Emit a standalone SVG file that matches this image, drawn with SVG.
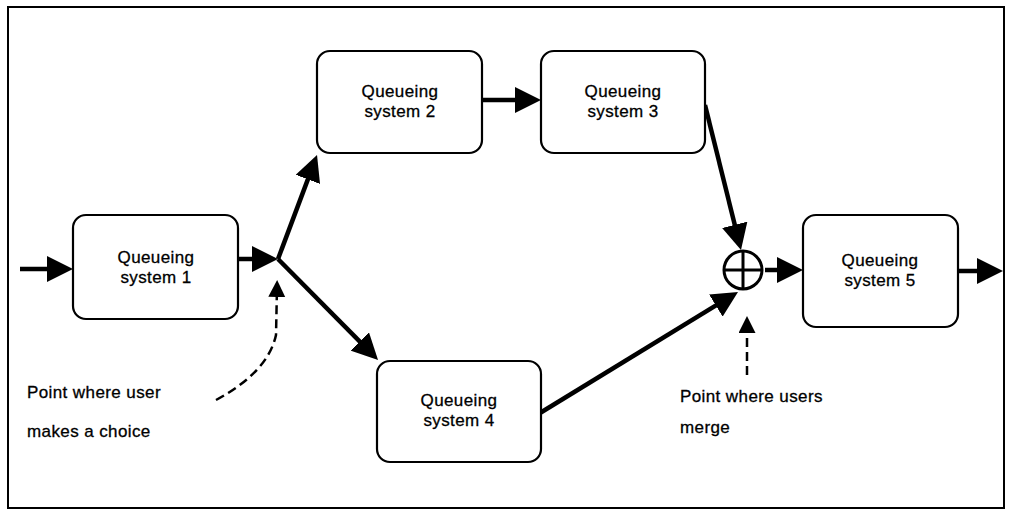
<svg xmlns="http://www.w3.org/2000/svg" width="1012" height="511" viewBox="0 0 1012 511">
<style>
.box{fill:#fff;stroke:#000;stroke-width:2.2}
.t{font-family:"Liberation Sans",Arial,sans-serif;font-size:17px;letter-spacing:0.4px;fill:#000;stroke:#000;stroke-width:0.3}
.c{text-anchor:middle}
.arr{stroke:#000;stroke-width:4.5;fill:none;marker-end:url(#ah)}
.dash{stroke:#000;stroke-width:2.5;fill:none;stroke-dasharray:9 5;marker-end:url(#dh)}
</style>
<defs>
<marker id="ah" markerUnits="userSpaceOnUse" markerWidth="27" markerHeight="26" refX="16" refY="13" orient="auto">
<path d="M0,0 L26,13 L0,26 z" fill="#000"/>
</marker>
<marker id="dh" markerUnits="userSpaceOnUse" markerWidth="18" markerHeight="18" refX="10" refY="8.5" orient="auto">
<path d="M0,0 L17,8.5 L0,17 z" fill="#000"/>
</marker>
</defs>
<rect x="8" y="7" width="996" height="501" fill="#fff" stroke="#000" stroke-width="2"/>
<g id="connectors">
<line class="arr" x1="20" y1="269" x2="63" y2="269"/>
<line class="arr" x1="238" y1="259" x2="268" y2="259"/>
<line class="arr" x1="278" y1="259" x2="313.5" y2="164.4"/>
<line class="arr" x1="278" y1="259" x2="371" y2="352.9"/>
<line class="arr" x1="482" y1="100" x2="531" y2="100"/>
<line class="arr" x1="705" y1="105" x2="738.6" y2="240.3"/>
<line class="arr" x1="540" y1="413" x2="729.5" y2="297.2"/>
<line class="arr" x1="765" y1="270" x2="793" y2="270"/>
<line class="arr" x1="958" y1="271" x2="993" y2="271"/>
<path class="dash" d="M216,400 Q268,372 276,335 L277,287"/>
<path class="dash" d="M747,375 L747,323"/>
</g>
<g id="merge">
<circle cx="743" cy="270" r="19" fill="#fff" stroke="#000" stroke-width="3"/>
<line x1="724" y1="270" x2="762" y2="270" stroke="#000" stroke-width="3"/>
<line x1="743" y1="251" x2="743" y2="289" stroke="#000" stroke-width="3"/>
</g>
<g id="q1">
<rect class="box" x="73" y="215" width="165" height="104" rx="13"/>
<text class="t c" x="156" y="263">Queueing</text>
<text class="t c" x="156" y="283">system 1</text>
</g>
<g id="q2">
<rect class="box" x="317" y="51" width="165" height="102" rx="13"/>
<text class="t c" x="400" y="97">Queueing</text>
<text class="t c" x="400" y="117">system 2</text>
</g>
<g id="q3">
<rect class="box" x="541" y="51" width="164" height="102" rx="13"/>
<text class="t c" x="623" y="97">Queueing</text>
<text class="t c" x="623" y="117">system 3</text>
</g>
<g id="q4">
<rect class="box" x="377" y="361" width="164" height="101" rx="13"/>
<text class="t c" x="459" y="406">Queueing</text>
<text class="t c" x="459" y="426">system 4</text>
</g>
<g id="q5">
<rect class="box" x="803" y="215" width="155" height="112" rx="13"/>
<text class="t c" x="880" y="266">Queueing</text>
<text class="t c" x="880" y="286">system 5</text>
</g>
<g id="labels">
<text class="t" x="27" y="398">Point where user</text>
<text class="t" x="27" y="437">makes a choice</text>
<text class="t" x="680" y="402">Point where users</text>
<text class="t" x="680" y="433">merge</text>
</g>
</svg>
